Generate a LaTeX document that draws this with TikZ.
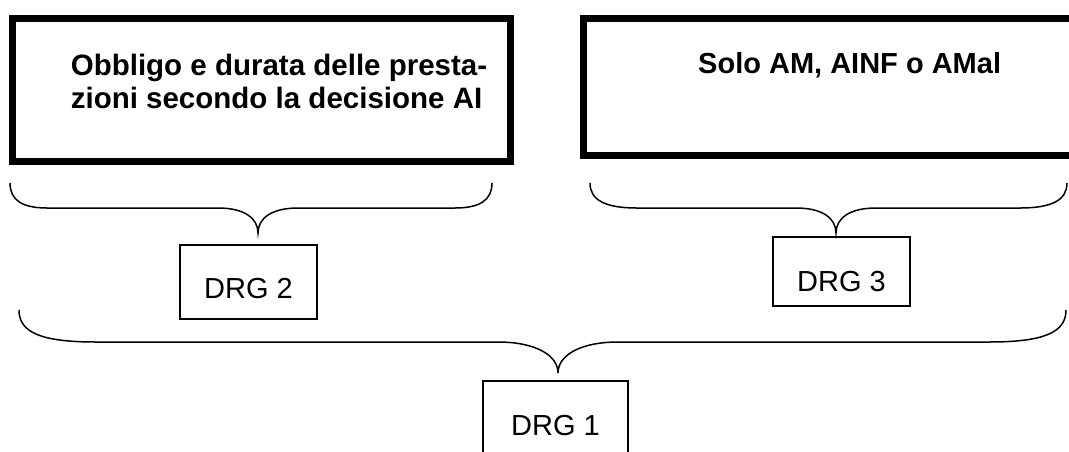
\documentclass[tikz,border=0pt]{standalone}
\usepackage{fontspec}
\setmainfont{Liberation Sans}
\begin{document}
\begin{tikzpicture}[x=1pt,y=-1pt,
  thickbox/.style={draw, line width=7pt, rectangle, inner sep=0pt},
  drgbox/.style={draw, line width=1.7pt, rectangle, inner xsep=0pt, inner ysep=0pt,
    font=\fontsize{29}{33}\selectfont},
  boldtxt/.style={font=\fontsize{29.5}{33}\selectfont\bfseries, inner sep=0pt},
  bracepath/.style={draw, line width=1.5pt}]
\useasboundingbox (0,0) rectangle (1069,451);
\begin{scope}
  \clip (0,0) rectangle (1069,451);
  \node[thickbox, minimum width=497.5pt, minimum height=142.5pt] (box1) at (261.25,89.75) {};
  \node[thickbox, minimum width=507pt, minimum height=137pt] (box2) at (836.5,86.5) {};
  \node[drgbox, minimum width=145pt, text height=55pt, text depth=40pt, anchor=north] (drg1) at (555.5,380) {DRG 1};
\end{scope}
\node[boldtxt, text width=417pt, align=justify, anchor=north east] (t1) at (488,54)
  {Obbligo e durata delle presta-\\zioni secondo la decisione AI\parfillskip=0pt\relax};
\node[boldtxt, font=\fontsize{29}{33}\selectfont\bfseries, anchor=base west] (t2) at (698,73) {Solo AM, AINF o AMal};
\node[drgbox, minimum width=137pt, text height=54pt, text depth=20pt, anchor=north] (drg2) at (248.5,244) {DRG 2};
\node[drgbox, minimum width=137pt, text height=55pt, text depth=14pt, anchor=north] (drg3) at (841.5,236) {DRG 3};
% braces
\draw[bracepath] (10,183) .. controls (10,200) and (22,208) .. (47,208) -- (218,208)
  .. controls (244,208) and (258,218) .. (258,233)
  .. controls (258,218) and (272,208) .. (298,208) -- (455,208)
  .. controls (480,208) and (492,200) .. (492,183);
\draw[bracepath] (590,183) .. controls (590,200) and (605,208) .. (637,208) -- (796,208)
  .. controls (822,208) and (836,218) .. (836,233)
  .. controls (836,218) and (850,208) .. (876,208) -- (1020,208)
  .. controls (1052,208) and (1067,200) .. (1067,183);
\draw[bracepath] (19,310) .. controls (19,332) and (40,342) .. (96,342) -- (498,342)
  .. controls (535,342) and (558,355) .. (558,373)
  .. controls (558,355) and (581,342) .. (618,342) -- (989,342)
  .. controls (1045,342) and (1066,332) .. (1066,310);
\end{tikzpicture}
\end{document}
